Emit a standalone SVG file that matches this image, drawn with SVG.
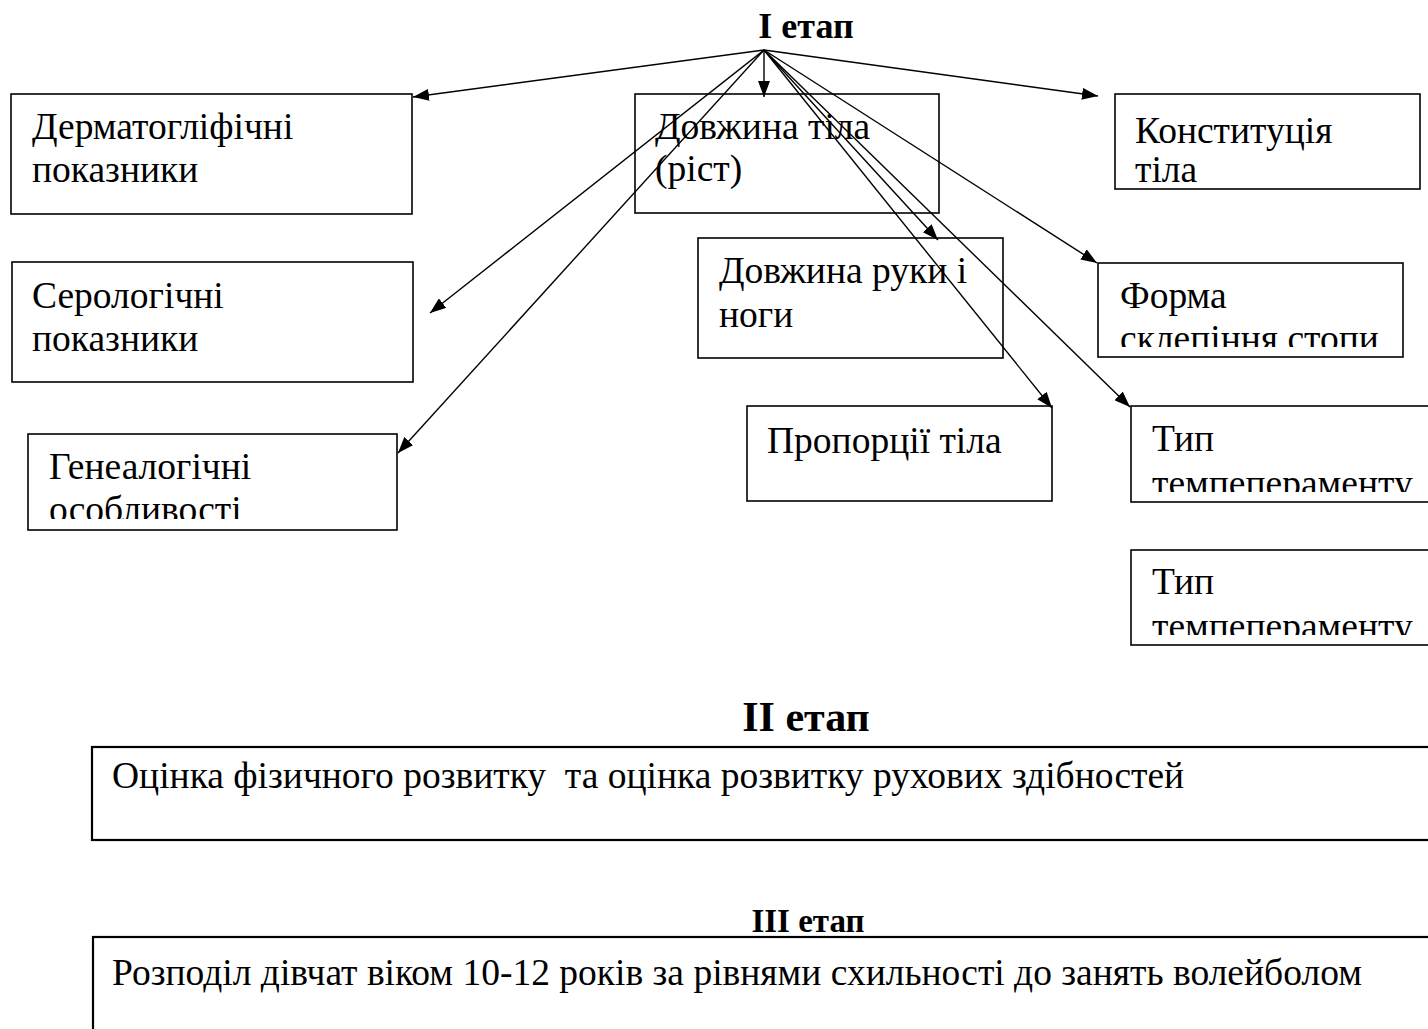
<svg xmlns="http://www.w3.org/2000/svg" width="1428" height="1029" viewBox="0 0 1428 1029">
<style>
.box{fill:#fff;stroke:#000;stroke-width:1.6}
.big{fill:#fff;stroke:#000;stroke-width:2.2}
.t{font-family:"Liberation Serif","Times New Roman",serif;font-size:37.5px;fill:#000}
.h{font-family:"Liberation Serif","Times New Roman",serif;font-weight:bold;fill:#000;text-anchor:middle}
.c{stroke:#000;stroke-width:1.4;fill:none;marker-end:url(#ah)}
</style>
<defs>
<marker id="ah" markerWidth="16" markerHeight="12" refX="16" refY="6" orient="auto" markerUnits="userSpaceOnUse">
<path d="M0,0 L16,6 L0,12 z" fill="#000"/>
</marker>
<clipPath id="c3"><rect x="28" y="434" width="369" height="85"/></clipPath>
<clipPath id="c5"><rect x="1115" y="94" width="305" height="90"/></clipPath>
<clipPath id="c7"><rect x="1098" y="263" width="305" height="84"/></clipPath>
<clipPath id="c9"><rect x="1131" y="406" width="300" height="86"/></clipPath>
<clipPath id="c10"><rect x="1131" y="550" width="300" height="85"/></clipPath>
</defs>
<text class="h" x="806" y="38" font-size="36">I етап</text>
<g id="n1"><rect class="box" x="11" y="94" width="401" height="120"/><text class="t" x="32" y="139">Дерматогліфічні</text><text class="t" x="32" y="182">показники</text></g>
<g id="n2"><rect class="box" x="12" y="262" width="401" height="120"/><text class="t" x="32" y="308">Серологічні</text><text class="t" x="32" y="351">показники</text></g>
<g id="n3"><rect class="box" x="28" y="434" width="369" height="96"/><g clip-path="url(#c3)"><text class="t" x="49" y="479">Генеалогічні</text><text class="t" x="49" y="522">особливості</text></g></g>
<g id="n4"><rect class="box" x="635" y="94" width="304" height="119"/><text class="t" x="655" y="139">Довжина тіла</text><text class="t" x="655" y="181">(ріст)</text></g>
<g id="n5"><rect class="box" x="1115" y="94" width="305" height="95"/><g clip-path="url(#c5)"><text class="t" x="1135" y="143">Конституція</text><text class="t" x="1135" y="182">тіла</text></g></g>
<g id="n6"><rect class="box" x="698" y="238" width="305" height="120"/><text class="t" x="719" y="283">Довжина руки і</text><text class="t" x="719" y="327">ноги</text></g>
<g id="n7"><rect class="box" x="1098" y="263" width="305" height="94"/><g clip-path="url(#c7)"><text class="t" x="1120" y="308">Форма</text><text class="t" x="1120" y="351">склепіння стопи</text></g></g>
<g id="n8"><rect class="box" x="747" y="406" width="305" height="95"/><text class="t" x="767" y="453">Пропорції тіла</text></g>
<g id="n9"><rect class="box" x="1131" y="406" width="310" height="96"/><g clip-path="url(#c9)"><text class="t" x="1152" y="451">Тип</text><text class="t" x="1152" y="496">темпепераменту</text></g></g>
<g id="n10"><rect class="box" x="1131" y="550" width="310" height="95"/><g clip-path="url(#c10)"><text class="t" x="1152" y="594">Тип</text><text class="t" x="1152" y="639">темпепераменту</text></g></g>
<text class="h" x="806" y="731" font-size="42">II етап</text>
<g id="n11"><rect class="big" x="92" y="747" width="1345" height="93"/><text class="t" x="112" y="788" xml:space="preserve">Оцінка фізичного розвитку  та оцінка розвитку рухових здібностей</text></g>
<text class="h" x="808" y="932" font-size="33">III етап</text>
<g id="n12"><rect class="big" x="93" y="937" width="1345" height="100"/><text class="t" x="112" y="985">Розподіл дівчат віком 10-12 років за рівнями схильності до занять волейболом</text></g>
<g id="connectors">
<line class="c" x1="764" y1="50" x2="413" y2="97"/>
<line class="c" x1="764" y1="50" x2="430" y2="313"/>
<line class="c" x1="764" y1="50" x2="398" y2="453"/>
<line class="c" x1="764" y1="50" x2="764" y2="97"/>
<line class="c" x1="764" y1="50" x2="1098" y2="96"/>
<line class="c" x1="764" y1="50" x2="938" y2="240"/>
<line class="c" x1="764" y1="50" x2="1097" y2="263"/>
<line class="c" x1="764" y1="50" x2="1052" y2="408"/>
<line class="c" x1="764" y1="50" x2="1130" y2="407"/>
</g>
</svg>
